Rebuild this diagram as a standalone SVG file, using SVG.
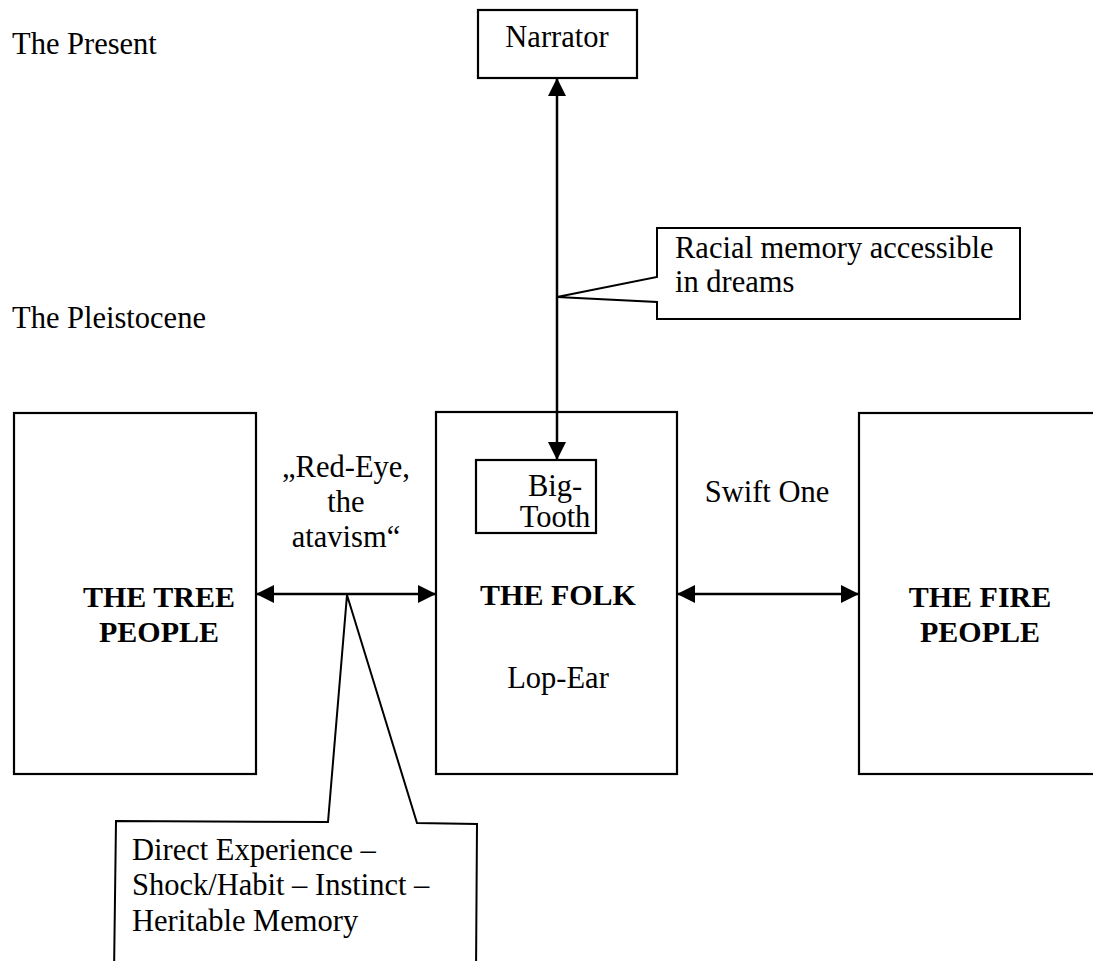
<svg xmlns="http://www.w3.org/2000/svg" width="1093" height="961" viewBox="0 0 1093 961">
<defs>
<style>
.t{font-family:"Liberation Serif","Times New Roman",serif;font-size:30.5px;fill:#000}
.b{font-weight:bold;font-size:30px}
.m{text-anchor:middle}
.box{fill:none;stroke:#000;stroke-width:2.2}
.ln{fill:none;stroke:#000;stroke-width:2.5}
.co{fill:#fff;stroke:#000;stroke-width:2;stroke-linejoin:miter}
</style>
<marker id="ah" viewBox="0 0 18 18" refX="18" refY="9" markerWidth="18" markerHeight="18" markerUnits="userSpaceOnUse" orient="auto-start-reverse">
<path d="M0,0 L18,9 L0,18 Z" fill="#000"/>
</marker>
</defs>
<rect width="1093" height="961" fill="#fff"/>
<text class="t" x="12" y="54">The Present</text>
<text class="t" x="12" y="328">The Pleistocene</text>
<g id="narrator">
<rect class="box" x="478" y="10" width="159" height="68"/>
<text class="t m" x="557" y="47">Narrator</text>
</g>
<g id="tree-people">
<rect class="box" x="14" y="413" width="242" height="361"/>
<text class="t b m" x="159" y="607">THE TREE</text>
<text class="t b m" x="159" y="642">PEOPLE</text>
</g>
<g id="folk">
<rect class="box" x="436" y="412" width="241" height="362"/>
<text class="t b m" x="558" y="605">THE FOLK</text>
<text class="t m" x="558" y="688">Lop-Ear</text>
</g>
<g id="big-tooth">
<rect class="box" x="476" y="460" width="120" height="73"/>
<text class="t m" x="555" y="496">Big-</text>
<text class="t m" x="555" y="527">Tooth</text>
</g>
<g id="fire-people">
<rect class="box" x="859" y="413" width="260" height="361"/>
<text class="t b m" x="980" y="607">THE FIRE</text>
<text class="t b m" x="980" y="642">PEOPLE</text>
</g>
<g id="connectors">
<line class="ln" x1="557" y1="460" x2="557" y2="78" marker-start="url(#ah)" marker-end="url(#ah)"/>
<line class="ln" x1="256" y1="594" x2="436" y2="594" marker-start="url(#ah)" marker-end="url(#ah)"/>
<line class="ln" x1="677" y1="594" x2="859" y2="594" marker-start="url(#ah)" marker-end="url(#ah)"/>
</g>
<g id="labels">
<text class="t m" x="346" y="477">„Red-Eye,</text>
<text class="t m" x="346" y="512">the</text>
<text class="t m" x="346" y="547">atavism“</text>
<text class="t m" x="767" y="502">Swift One</text>
</g>
<g id="racial-memory">
<path class="co" d="M657,228 L1020,228 L1020,319 L657,319 L657,302 L557,297 L657,277 Z"/>
<text class="t" x="675" y="258">Racial memory accessible</text>
<text class="t" x="675" y="292">in dreams</text>
</g>
<g id="direct-experience">
<path class="co" d="M114,975 L116,821 L328,822 L347,595 L417,823 L477,824 L476,975"/>
<text class="t" x="132" y="860">Direct Experience –</text>
<text class="t" x="132" y="895">Shock/Habit – Instinct –</text>
<text class="t" x="132" y="931">Heritable Memory</text>
</g>
</svg>
